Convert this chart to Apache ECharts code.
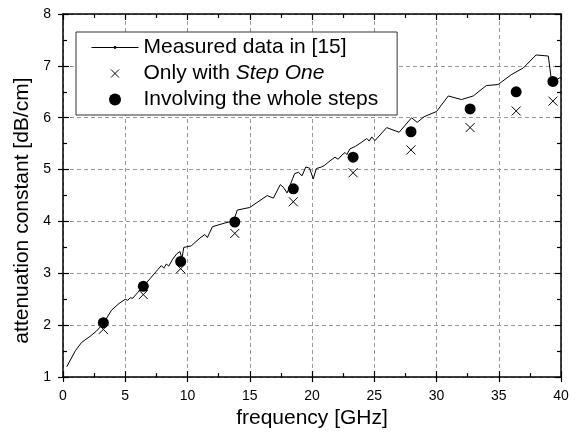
<!DOCTYPE html>
<html>
<head>
<meta charset="utf-8">
<script src="https://cdn.jsdelivr.net/npm/echarts@6/dist/echarts.min.js"></script>
<style>html,body{margin:0;padding:0;background:#fff}#c{width:578px;height:434px}</style>
</head>
<body>
<div id="c"></div>
<script>
// ---- data ----
var measuredFreq = [0.3, 1.0, 1.5, 2.2, 2.7, 3.2, 3.9, 4.5, 5.0, 5.2, 5.4, 5.6, 6.0, 6.5, 7.0, 7.5, 7.9, 8.1, 8.3, 8.5, 8.8, 9.15, 9.4, 9.55, 9.7, 10.3, 11.0, 11.4, 11.6, 12.0, 13.0, 13.7, 14.0, 15.0, 16.4, 16.9, 17.45, 17.7, 18.0, 18.6, 18.9, 19.2, 19.5, 19.8, 20.1, 20.35, 20.75, 21.0, 21.45, 21.85, 22.1, 22.4, 22.65, 22.8, 23.05, 23.5, 24.0, 24.4, 24.6, 24.8, 25.06, 26.0, 27.0, 28.0, 28.45, 29.0, 30.0, 30.95, 32.0, 32.95, 34.0, 34.95, 36.0, 36.97, 38.0, 38.98, 39.2, 39.4, 39.9, 40.0];
var measuredVal  = [1.20, 1.51, 1.67, 1.79, 1.89, 2.02, 2.29, 2.42, 2.50, 2.48, 2.53, 2.52, 2.63, 2.76, 2.90, 3.04, 3.15, 3.10, 3.18, 3.14, 3.27, 3.38, 3.42, 3.28, 3.50, 3.53, 3.68, 3.75, 3.69, 3.90, 3.97, 4.01, 4.22, 4.27, 4.50, 4.45, 4.71, 4.66, 4.55, 4.92, 4.95, 4.88, 5.05, 5.03, 4.82, 5.02, 5.05, 5.08, 5.17, 5.24, 5.20, 5.28, 5.33, 5.29, 5.40, 5.45, 5.53, 5.60, 5.55, 5.63, 5.56, 5.81, 5.72, 6.00, 5.91, 6.02, 6.12, 6.42, 6.35, 6.42, 6.62, 6.64, 6.83, 6.96, 7.21, 7.19, 6.78, 6.70, 6.77, 6.77];
var calcFreq   = [3.24, 6.45, 9.45, 13.8, 18.5, 23.3, 27.95, 32.7, 36.4, 39.35];
var stepOneVal = [1.92, 2.59, 3.09, 3.77, 4.38, 4.94, 5.38, 5.81, 6.13, 6.32];
var wholeVal   = [2.05, 2.75, 3.23, 3.99, 4.63, 5.24, 5.73, 6.17, 6.50, 6.70];
var seriesNames = ['Measured data in [15]', 'Only with Step One', 'Involving the whole steps'];
var xTicks = {min: 0, max: 40, interval: 5};
var yTicks = {min: 1, max: 8, interval: 1};

function zip(a, b) { return a.map(function (v, i) { return [v, b[i]]; }); }

var FONT = "Arial, 'Liberation Sans', sans-serif";
var chart = echarts.init(document.getElementById('c'), null, {renderer: 'canvas'});

var gridBox = {left: 63, right: 17, top: 14, bottom: 54};
function baseAxis(extra) {
  var o = {
    type: 'value', gridIndex: 0,
    axisLine: {show: true, onZero: false, lineStyle: {color: '#000', width: 1.5}},
    axisTick: {show: true, inside: true, length: 6, lineStyle: {color: '#000', width: 1.2}},
    minorTick: {show: true, splitNumber: 2, length: 4, lineStyle: {color: '#000', width: 1.2}},
    axisLabel: {show: false},
    splitLine: {show: false},
    minorSplitLine: {show: false}
  };
  for (var k in extra) o[k] = extra[k];
  return o;
}
var tickOut = {show: true, inside: false, length: 5, lineStyle: {color: '#000', width: 1.2}};

var option = {
  backgroundColor: '#fff',
  animation: false,
  textStyle: {fontFamily: FONT},
  grid: gridBox,
  legend: {
    orient: 'vertical', left: 76, top: 32,
    padding: [5, 19, 5, 15],
    itemGap: 5, itemWidth: 47, itemHeight: 12,
    borderColor: '#333', borderWidth: 1,
    backgroundColor: '#fff',
    textStyle: {fontFamily: FONT, fontSize: 21, color: '#000',
      rich: {it: {fontFamily: FONT, fontSize: 21, fontStyle: 'italic', color: '#000'}}},
    formatter: function (n) {
      if (n === 'Only with Step One') return 'Only with {it|Step One}';
      return n;
    },
    data: [
      {name: seriesNames[0], lineStyle: {width: 1, color: '#000'}},
      {name: seriesNames[1], icon: 'path://M-24.4 -2.5M34.4 12.5M0 0L10 10M10 0L0 10',
        itemStyle: {borderWidth: 1, borderColor: '#000', color: 'rgba(0,0,0,0)', opacity: 1}},
      {name: seriesNames[2], icon: 'circle', itemStyle: {opacity: 1}}
    ]
  },
  xAxis: [
    baseAxis({min: xTicks.min, max: xTicks.max, interval: xTicks.interval, position: 'bottom',
      name: 'frequency [GHz]', nameLocation: 'middle', nameGap: 29,
      nameTextStyle: {fontFamily: FONT, fontSize: 21, color: '#000'},
      axisLabel: {show: true, fontFamily: FONT, fontSize: 14, color: '#000', margin: 12},
      splitLine: {show: true, lineStyle: {color: '#999', width: 1, type: [4, 3]}}}),
    baseAxis({min: xTicks.min, max: xTicks.max, interval: xTicks.interval, position: 'bottom',
      axisLine: {show: false}, axisTick: tickOut, minorTick: {show: false}}),
    baseAxis({min: xTicks.min, max: xTicks.max, interval: xTicks.interval, position: 'top'})
  ],
  yAxis: [
    baseAxis({min: yTicks.min, max: yTicks.max, interval: yTicks.interval, position: 'left',
      name: 'attenuation constant [dB/cm]', nameLocation: 'middle', nameGap: 28, nameRotate: 90,
      nameTextStyle: {fontFamily: FONT, fontSize: 21, color: '#000', padding: [0, 30, 0, 0]},
      axisLabel: {show: true, fontFamily: FONT, fontSize: 14, color: '#000', margin: 12},
      splitLine: {show: true, lineStyle: {color: '#999', width: 1, type: [4, 3]}}}),
    baseAxis({min: yTicks.min, max: yTicks.max, interval: yTicks.interval, position: 'left',
      axisLine: {show: false}, axisTick: tickOut, minorTick: {show: false}}),
    baseAxis({min: yTicks.min, max: yTicks.max, interval: yTicks.interval, position: 'right'})
  ],
  series: [
    {
      name: seriesNames[0], type: 'line', xAxisIndex: 0, yAxisIndex: 0,
      data: zip(measuredFreq, measuredVal),
      showSymbol: false,
      symbol: 'path://M0 0M10 10M3.5 5A1.5 1.5 0 1 0 6.5 5A1.5 1.5 0 1 0 3.5 5Z',
      lineStyle: {color: '#000', width: 1},
      itemStyle: {color: '#000'},
      z: 3
    },
    {
      name: seriesNames[1], type: 'scatter', xAxisIndex: 0, yAxisIndex: 0,
      data: zip(calcFreq, stepOneVal),
      symbol: 'path://M0 0L10 10M10 0L0 10',
      symbolSize: 9,
      itemStyle: {color: 'rgba(0,0,0,0)', borderColor: '#000', borderWidth: 1, opacity: 1},
      z: 4
    },
    {
      name: seriesNames[2], type: 'scatter', xAxisIndex: 0, yAxisIndex: 0,
      data: zip(calcFreq, wholeVal),
      symbol: 'circle', symbolSize: 11,
      itemStyle: {color: '#000', opacity: 1},
      z: 5
    }
  ]
};
chart.setOption(option);
</script>
</body>
</html>
